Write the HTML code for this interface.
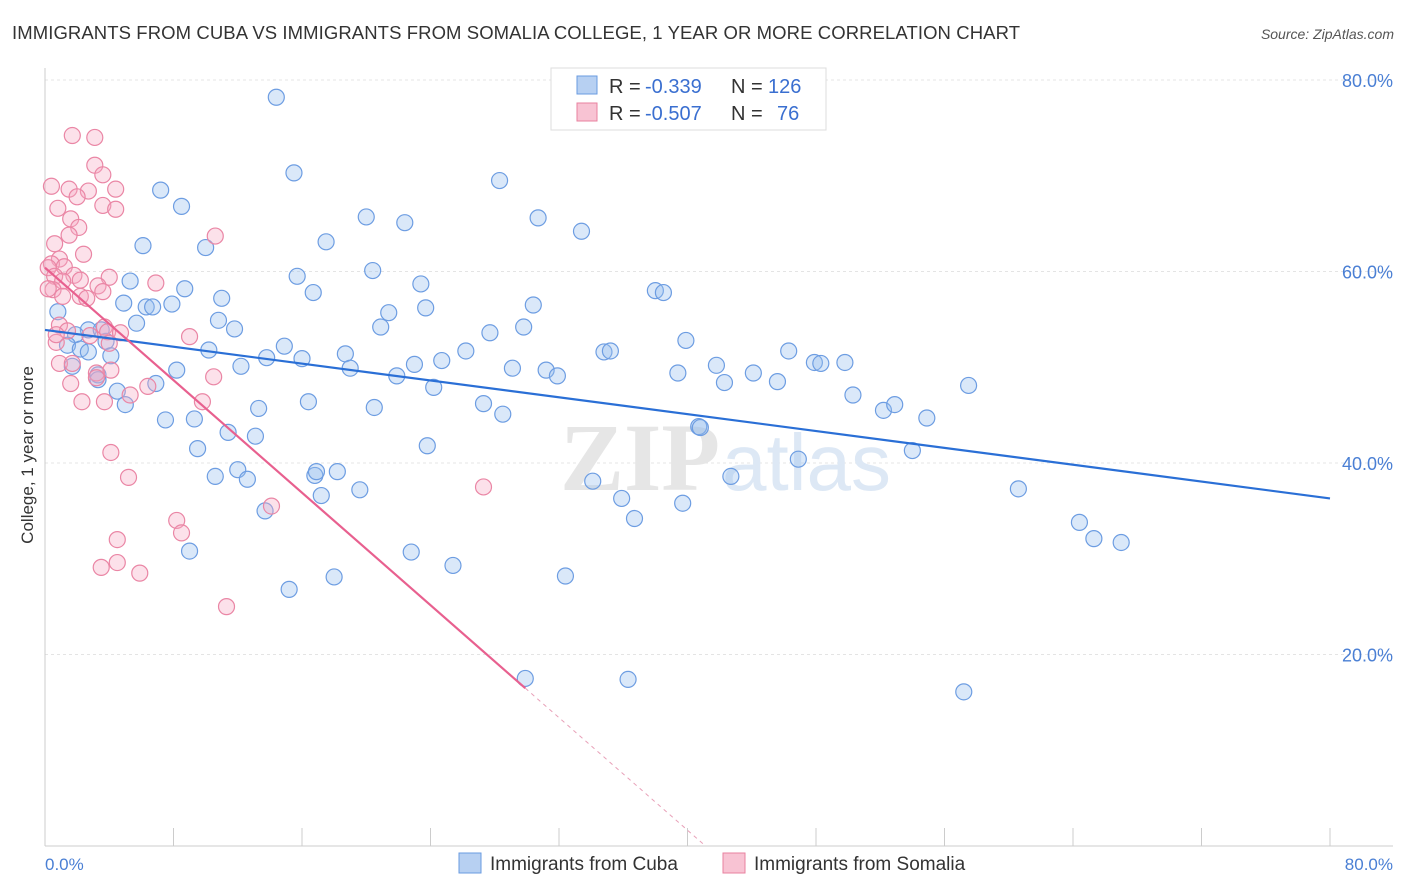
<!DOCTYPE html>
<html><head><meta charset="utf-8"><style>
body{margin:0;background:#fff;font-family:"Liberation Sans",sans-serif}
svg{display:block}
</style></head><body>
<svg id="chart" width="1406" height="892">
<text x="12" y="39" font-size="18.5" fill="#333" textLength="1008">IMMIGRANTS FROM CUBA VS IMMIGRANTS FROM SOMALIA COLLEGE, 1 YEAR OR MORE CORRELATION CHART</text>
<text x="1394" y="39" font-size="14" fill="#555" font-style="italic" text-anchor="end">Source: ZipAtlas.com</text>
<g id="grid"></g>
<text x="720" y="490" font-size="96" fill="#e6e6e6" font-family="Liberation Serif" text-anchor="end" font-weight="bold">ZIP</text>
<text x="722" y="490" font-size="80" fill="#dde8f5">atlas</text>
<g id="pts"></g>
<g id="lines"></g>
<text transform="translate(33,455) rotate(-90)" font-size="17" fill="#333" text-anchor="middle">College, 1 year or more</text>
<g id="yt"></g>
<text x="45" y="870" font-size="17" fill="#4a7fd4">0.0%</text>
<text x="1393" y="870" font-size="17" fill="#4a7fd4" text-anchor="end">80.0%</text>
<g>
<rect x="551" y="68" width="275" height="62" fill="#fff" stroke="#ddd"/>
<rect x="577" y="76" width="20" height="18" fill="#b7d0f2" stroke="#6a9be0"/>
<rect x="577" y="103" width="20" height="18" fill="#f8c3d3" stroke="#e8819f"/>
<text x="609" y="93" font-size="20" fill="#333">R = <tspan x="645" fill="#3a6fd0">-0.339</tspan><tspan x="731">N =</tspan><tspan x="768" fill="#3a6fd0">126</tspan></text>
<text x="609" y="120" font-size="20" fill="#333">R = <tspan x="645" fill="#3a6fd0">-0.507</tspan><tspan x="731">N =</tspan><tspan x="777" fill="#3a6fd0">76</tspan></text>
</g>
<g>
<rect x="459" y="853" width="22" height="20" fill="#b7d0f2" stroke="#6a9be0"/>
<text x="490" y="870" font-size="19" fill="#333">Immigrants from Cuba</text>
<rect x="723" y="853" width="22" height="20" fill="#f8c3d3" stroke="#e8819f"/>
<text x="754" y="870" font-size="19" fill="#333">Immigrants from Somalia</text>
</g>
</svg>
<script>
const cubaX=[14.4,15.5,28.3,7.2,8.5,20.0,22.4,30.7,33.4,17.5,6.1,10.0,15.7,20.4,23.4,8.7,5.3,16.7,11.0,4.9,6.3,6.7,7.9,23.7,30.4,0.8,10.8,21.4,38.0,38.5,5.7,11.8,20.9,27.7,29.8,2.7,3.5,1.9,1.4,3.8,2.2,2.7,4.1,10.2,14.9,26.2,39.9,18.7,34.8,35.2,46.3,13.8,16.0,12.2,19.0,23.0,24.7,47.9,48.3,49.8,8.2,21.9,29.1,31.2,31.9,39.4,41.8,44.1,1.7,3.3,3.3,4.5,6.9,24.2,42.3,45.6,57.5,5.0,13.3,16.4,20.5,27.3,28.5,50.3,52.2,52.9,54.9,7.5,9.3,11.4,13.1,23.8,9.5,40.7,40.8,46.9,54.0,10.6,12.0,12.6,16.8,16.9,18.2,42.7,34.1,19.6,17.2,13.7,35.9,39.7,36.7,60.6,64.4,65.3,67.0,9.0,22.8,25.4,32.4,18.0,15.2,29.9,36.3,57.2];
const cubaY=[78.2,70.3,69.5,68.5,66.8,65.7,65.1,65.6,64.2,63.1,62.7,62.5,59.5,60.1,58.7,58.2,59.0,57.8,57.2,56.7,56.3,56.3,56.6,56.2,56.5,55.8,54.9,55.7,58.0,57.8,54.6,54.0,54.2,53.6,54.2,53.9,53.9,53.4,52.3,52.7,51.9,51.6,51.2,51.8,52.2,51.7,52.8,51.4,51.6,51.7,51.7,51.0,50.9,50.1,49.9,50.3,50.7,50.5,50.4,50.5,49.7,49.1,49.9,49.7,49.1,49.4,50.2,49.4,50.1,49.2,48.7,47.5,48.3,47.9,48.4,48.5,48.1,46.1,45.7,46.4,45.8,46.2,45.1,47.1,45.5,46.1,44.7,44.5,44.6,43.2,42.8,41.8,41.5,43.8,43.7,40.4,41.3,38.6,39.3,38.3,38.7,39.1,39.1,38.6,38.1,37.2,36.6,35.0,36.3,35.8,34.2,37.3,33.8,32.1,31.7,30.8,30.7,29.3,28.2,28.1,26.8,17.5,17.4,16.1];
const somX=[1.7,3.1,3.1,0.4,2.7,4.4,3.6,1.5,2.0,3.6,4.4,0.8,1.6,2.1,10.6,0.6,1.5,2.4,0.9,0.4,1.2,0.2,0.6,1.8,1.1,2.2,4.0,3.3,6.9,0.5,2.2,3.6,2.6,1.1,0.2,0.9,1.4,3.7,3.9,4.7,9.0,2.8,0.7,0.9,1.6,4.1,3.2,3.2,6.4,10.5,5.3,2.3,3.7,9.8,4.1,5.2,27.3,14.1,8.2,8.5,4.5,3.5,4.5,5.9,11.3,1.7,4.0,0.7];
const somY=[74.2,74.0,71.1,68.9,68.4,68.6,70.1,68.6,67.8,66.9,66.5,66.6,65.5,64.6,63.7,62.9,63.8,61.8,61.3,60.8,60.5,60.4,59.5,59.6,59.0,59.1,59.4,58.5,58.8,58.1,57.4,57.9,57.2,57.4,58.2,54.4,53.8,54.2,53.7,53.6,53.2,53.3,52.6,50.4,48.3,49.7,49.4,48.9,48.0,49.0,47.1,46.4,46.4,46.4,41.1,38.5,37.5,35.5,34.0,32.7,32.0,29.1,29.6,28.5,25.0,50.4,52.5,53.4];
const yTicks=[20,40,60,80];
const yTickLabels=["20.0%","40.0%","60.0%","80.0%"];
const cubaTrend=[53.9,36.3];
const somTrend=[60.4,-57.1];
const somSolidEnd=29.9;

const X0=45,X1=1330,Y0=846,Y1=80;
const sx=v=>X0+(v/80)*(X1-X0);
const sy=v=>Y0-(v/80)*(Y0-Y1);
const NS="http://www.w3.org/2000/svg";
function mk(tag,attrs,parent){const e=document.createElementNS(NS,tag);for(const k in attrs)e.setAttribute(k,attrs[k]);parent.appendChild(e);return e;}
const grid=document.getElementById('grid'),yt=document.getElementById('yt');
yTicks.forEach((t,i)=>{
 const l=mk('line',{x1:X0,x2:1393,y1:sy(t),y2:sy(t),stroke:'#e4e4e4','stroke-dasharray':'3,3'},grid);
 
 
 const tx=mk('text',{x:1393,y:sy(t)+7,'font-size':18,fill:'#4a7fd4','text-anchor':'end'},yt);
 tx.textContent=yTickLabels[i];
 
 
});
const ax=mk('line',{x1:X0,x2:X0,y1:68,y2:Y0,stroke:'#ccc'},grid);


const bx=mk('line',{x1:X0,x2:1393,y1:Y0,y2:Y0,stroke:'#ccc'},grid);


for(let v=0;v<=80;v+=8){
 const tk=mk('line',{x1:sx(v),x2:sx(v),y1:828,y2:Y0,stroke:'#ccc'},grid);
 
 
}
const pts=document.getElementById('pts');
cubaX.forEach((x,i)=>{
 const c=mk('circle',{cx:sx(x),cy:sy(cubaY[i]),r:8,fill:'rgba(150,188,238,0.35)',stroke:'#6d9de2','stroke-width':1.2},pts);
 
 
});
somX.forEach((x,i)=>{
 const c=mk('circle',{cx:sx(x),cy:sy(somY[i]),r:8,fill:'rgba(245,170,195,0.35)',stroke:'#ea86a5','stroke-width':1.2},pts);
 
 
});
const lines=document.getElementById('lines');
const bl=mk('line',{x1:sx(0),y1:sy(cubaTrend[0]),x2:sx(80),y2:sy(cubaTrend[1]),stroke:'#2a6fd6','stroke-width':2.2},lines);


const slope=(somTrend[1]-somTrend[0])/80;
const yEnd=somTrend[0]+slope*somSolidEnd;
const pl=mk('line',{x1:sx(0),y1:sy(somTrend[0]),x2:sx(somSolidEnd),y2:sy(yEnd),stroke:'#e8608f','stroke-width':2.2},lines);


const xz=-somTrend[0]/slope;
const pd=mk('line',{x1:sx(somSolidEnd),y1:sy(yEnd),x2:sx(xz),y2:sy(0),stroke:'#e8a0b8','stroke-width':1,'stroke-dasharray':'4,4'},lines);


</script>
</body></html>
